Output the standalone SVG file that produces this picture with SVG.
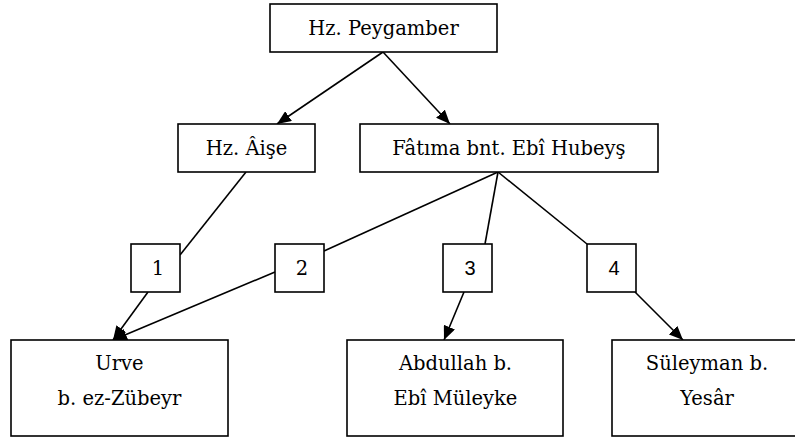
<svg xmlns="http://www.w3.org/2000/svg" width="795" height="437" viewBox="0 0 795 437">
<defs>
<style>
.box{fill:#fff;stroke:#000;stroke-width:1.6}
.t{font-family:"DejaVu Serif","Liberation Serif",serif;font-size:19.5px;fill:#000;text-anchor:middle}
.n{font-family:"Liberation Sans",sans-serif;font-size:20px;fill:#000;text-anchor:middle}
.e{stroke:#000;stroke-width:1.6;fill:none}
</style>
<marker id="ah" viewBox="0 0 14 12" refX="14" refY="6" markerWidth="14" markerHeight="12" markerUnits="userSpaceOnUse" orient="auto">
<path d="M0,0 L14,6 L0,12 Z" fill="#000"/>
</marker>
</defs>
<rect width="795" height="437" fill="#fff"/>
<g id="edges">
<line class="e" x1="383" y1="52" x2="277" y2="124" marker-end="url(#ah)"/>
<line class="e" x1="383" y1="52" x2="450" y2="124" marker-end="url(#ah)"/>
<line class="e" x1="246" y1="172" x2="180" y2="255"/>
<line class="e" x1="148" y1="292" x2="113" y2="340" marker-end="url(#ah)"/>
<line class="e" x1="498" y1="172" x2="324" y2="251"/>
<line class="e" x1="275" y1="272" x2="113" y2="340" marker-end="url(#ah)"/>
<line class="e" x1="498" y1="172" x2="485" y2="244"/>
<line class="e" x1="464" y1="292" x2="444" y2="340" marker-end="url(#ah)"/>
<line class="e" x1="498" y1="172" x2="587" y2="244"/>
<line class="e" x1="635" y1="292" x2="683" y2="340" marker-end="url(#ah)"/>
</g>
<g id="peygamber"><rect class="box" x="270" y="4" width="227" height="48"/><text class="t" x="383.5" y="35">Hz. Peygamber</text></g>
<g id="aise"><rect class="box" x="178" y="124" width="137" height="48"/><text class="t" x="246.5" y="155">Hz. Âişe</text></g>
<g id="fatima"><rect class="box" x="360" y="124" width="298" height="48"/><text class="t" x="509" y="155">Fâtıma bnt. Ebî Hubeyş</text></g>
<g id="l1"><rect class="box" x="131" y="244" width="49" height="48"/><text class="t" x="158" y="275">1</text></g>
<g id="l2"><rect class="box" x="275" y="244" width="49" height="48"/><text class="t" x="302" y="275">2</text></g>
<g id="l3"><rect class="box" x="443" y="244" width="49" height="48"/><text class="n" x="470" y="275">3</text></g>
<g id="l4"><rect class="box" x="587" y="244" width="49" height="48"/><text class="n" x="614" y="275">4</text></g>
<g id="urve"><rect class="box" x="11" y="340" width="217" height="96"/><text class="t" x="119.5" y="370">Urve</text><text class="t" x="119.5" y="405">b. ez-Zübeyr</text></g>
<g id="abdullah"><rect class="box" x="347" y="340" width="216" height="96"/><text class="t" x="455.5" y="370">Abdullah b.</text><text class="t" x="455.5" y="405">Ebî Müleyke</text></g>
<g id="suleyman"><rect class="box" x="612" y="340" width="190" height="96"/><text class="t" x="707" y="370">Süleyman b.</text><text class="t" x="707" y="405">Yesâr</text></g>
</svg>
